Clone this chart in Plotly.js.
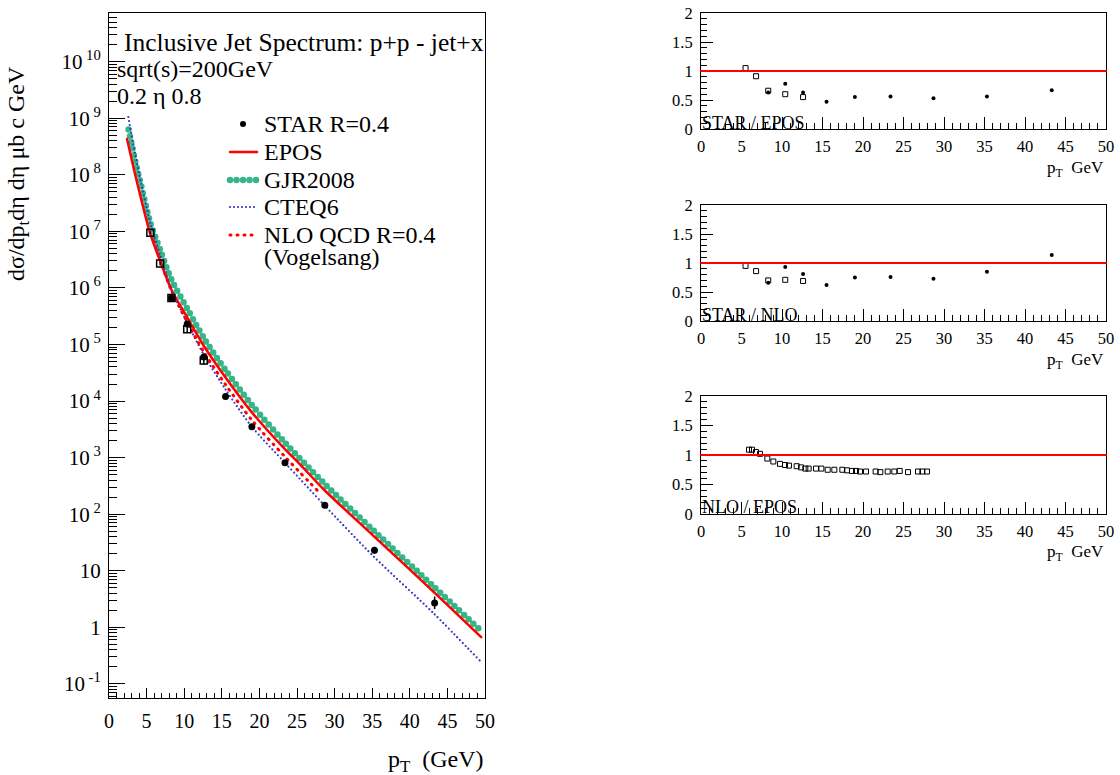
<!DOCTYPE html>
<html>
<head>
<meta charset="utf-8">
<script src="https://cdn.plot.ly/plotly-3.0.1.min.js"></script>
<style>
html,body{margin:0;padding:0;background:#fff;}
#chart{width:1120px;height:775px;}
path.js-line{stroke-linecap:round;}
.shapelayer path{stroke-linecap:round;}
</style>
</head>
<body>
<div id="chart"></div>
<script>
// ---------- data ----------
// EPOS curve
const eposX = [2.4, 3, 3.5, 4.3, 5.5, 6.8, 8.3, 10.4, 12.6, 15.5, 19, 23.3, 25.4, 28.6, 35.2, 43.2, 49.5];
const eposY = [4.3e8, 1.9e8, 9.8e7, 3.6e7, 8.9e6, 3.0e6, 9.3e5, 3.0e5, 9.5e4, 2.6e4, 6.3e3, 1.45e3, 760, 270, 41, 4.2, 0.67];
// GJR2008 curve
const gjrX = [2.6, 3, 3.5, 4.3, 5.5, 6.8, 8.3, 10.4, 12.6, 15.5, 19, 23.3, 28.6, 35.2, 43.2, 49.3];
const gjrY = [6.3e8, 3.5e8, 1.7e8, 6.2e7, 1.4e7, 4.7e6, 1.4e6, 4.3e5, 1.3e5, 3.5e4, 8.5e3, 1.9e3, 350, 51, 5.2, 0.91];
// CTEQ6 curve
const cteqX = [2.57, 3, 3.5, 4.3, 5.5, 6.8, 8.3, 10.4, 12.6, 15.5, 19, 23.4, 28.7, 35.2, 43.1, 49.4];
const cteqY = [1.05e9, 5.0e8, 2.3e8, 6.9e7, 1.4e7, 3.8e6, 9.5e5, 2.4e5, 6.6e4, 1.6e4, 3.5e3, 810, 141, 17.8, 1.8, 0.25];
// NLO QCD R=0.4 (Vogelsang)
const nloX = [5.9, 6.8, 8.3, 10.4, 12.6, 15.5, 19, 23.3, 27.8];
const nloY = [6.9e6, 3.1e6, 8.9e5, 2.5e5, 7.4e4, 1.95e4, 4.6e3, 1.07e3, 255];
// STAR R=0.4 (filled dots)
const starDotX = [8.3, 10.4, 12.6, 15.5, 19.0, 23.4, 28.7, 35.3, 43.3];
const starDotY = [6.6e5, 2.3e5, 6.0e4, 1.2e4, 3.5e3, 810, 144, 23, 2.7];
const starDotErrUp = [8e4, 3e4, 9e3, 1.2e3, 3.5e2, 80, 15, 3.5, 0.8];
const starDotErrDn = [7e4, 2.6e4, 8e3, 1.1e3, 3.2e2, 70, 13, 3.0, 0.6];
// STAR (open squares)
const starSqX = [5.5, 6.8, 8.3, 10.4, 12.6];
const starSqY = [9.4e6, 2.7e6, 6.6e5, 1.86e5, 5.2e4];
const starSqErrUp = [6e5, 2e5, 6e4, 2.2e4, 9e3];
const starSqErrDn = [6e5, 2e5, 6e4, 2.0e4, 8e3];
// Ratio STAR / EPOS
const r1DotY = [0.63, 0.78, 0.63, 0.47, 0.55, 0.56, 0.53, 0.56, 0.67];
const r1SqY = [1.05, 0.91, 0.66, 0.60, 0.55];
// Ratio STAR / NLO
const r2DotY = [0.66, 0.93, 0.81, 0.62, 0.75, 0.76, 0.73, 0.85, 1.14];
const r2SqY = [0.95, 0.86, 0.70, 0.71, 0.69];
// Ratio NLO / EPOS
const r3X = [5.93, 6.30, 6.79, 7.28, 8.19, 8.93, 9.75, 10.37, 10.86, 11.81, 12.35, 12.88, 13.29, 14.20, 14.86, 15.64, 16.46, 17.45, 18.02, 18.64, 19.14, 19.63, 20.37, 21.56, 22.14, 23.05, 23.87, 24.53, 25.56, 26.79, 27.33, 27.90];
const r3Y = [1.09, 1.09, 1.05, 1.02, 0.94, 0.89, 0.85, 0.83, 0.82, 0.81, 0.79, 0.77, 0.77, 0.77, 0.77, 0.75, 0.75, 0.75, 0.74, 0.73, 0.73, 0.72, 0.72, 0.72, 0.71, 0.72, 0.72, 0.73, 0.71, 0.72, 0.72, 0.72];
// legend labels
const legendLabels = ['STAR R=0.4', 'EPOS', 'GJR2008', 'CTEQ6', 'NLO QCD R=0.4', '(Vogelsang)'];
// tick labels
const decadeVals = [0.1, 1, 10, 1e2, 1e3, 1e4, 1e5, 1e6, 1e7, 1e8, 1e9, 1e10];
const decadeText = ['10<sup> -1</sup>', '1', '10', '10<sup> 2</sup>', '10<sup> 3</sup>', '10<sup> 4</sup>', '10<sup> 5</sup>', '10<sup> 6</sup>', '10<sup> 7</sup>', '10<sup> 8</sup>', '10<sup> 9</sup>', '10<sup> 10</sup>'];
const ratioTickVals = [0, 0.5, 1, 1.5, 2];
const ratioTickText = ['0', '0.5', '1', '1.5', '2'];

// ---------- styles ----------
const FONT = 'Liberation Serif, Times New Roman, Times, DejaVu Serif, serif';
const RED = '#ff0000', GREEN = '#36b587', BLUE = '#3535c8';
const W = 1120, H = 775;
const px = v => v / W, py = v => 1 - v / H;

const minorLog = [];
for (let e = -2; e <= 10; e++) for (let m = 2; m <= 9; m++) minorLog.push(m * Math.pow(10, e));

const gjrLine = {color: GREEN, width: 6.5, dash: '0px,6.5px'};
const eposLine = {color: RED, width: 2.5};
const cteqLine = {color: BLUE, width: 2.2, dash: '0px,4px'};
const nloLine = {color: RED, width: 3, dash: '1px,6px'};

const traces = [
  {x: gjrX, y: gjrY, mode: 'lines', name: 'GJR2008', line: Object.assign({shape: 'spline', smoothing: 0.8}, gjrLine), xaxis: 'x', yaxis: 'y'},
  {x: eposX, y: eposY, mode: 'lines', name: 'EPOS', line: Object.assign({shape: 'spline', smoothing: 0.8}, eposLine), xaxis: 'x', yaxis: 'y'},
  {x: cteqX, y: cteqY, mode: 'lines', name: 'CTEQ6', line: Object.assign({shape: 'spline', smoothing: 0.8}, cteqLine), xaxis: 'x', yaxis: 'y'},
  {x: nloX, y: nloY, mode: 'lines', name: 'NLO QCD R=0.4', line: Object.assign({shape: 'spline', smoothing: 0.8}, nloLine), xaxis: 'x', yaxis: 'y'},
  {x: starSqX, y: starSqY, mode: 'markers', name: 'STAR', marker: {symbol: 'square-open', size: 7, color: 'black', line: {width: 1.5, color: 'black'}},
   error_y: {type: 'data', array: starSqErrUp, arrayminus: starSqErrDn, color: 'black', thickness: 1.5, width: 0}, xaxis: 'x', yaxis: 'y'},
  {x: starDotX, y: starDotY, mode: 'markers', name: 'STAR R=0.4', marker: {symbol: 'circle', size: 7, color: 'black'},
   error_y: {type: 'data', array: starDotErrUp, arrayminus: starDotErrDn, color: 'black', thickness: 1.5, width: 0}, xaxis: 'x', yaxis: 'y'},
  // ratio panels
  {x: starSqX, y: r1SqY, mode: 'markers', marker: {symbol: 'square-open', size: 5, color: 'black', line: {width: 1, color: 'black'}}, xaxis: 'x2', yaxis: 'y2'},
  {x: starDotX, y: r1DotY, mode: 'markers', marker: {symbol: 'circle', size: 4, color: 'black'}, xaxis: 'x2', yaxis: 'y2'},
  {x: starSqX, y: r2SqY, mode: 'markers', marker: {symbol: 'square-open', size: 5, color: 'black', line: {width: 1, color: 'black'}}, xaxis: 'x3', yaxis: 'y3'},
  {x: starDotX, y: r2DotY, mode: 'markers', marker: {symbol: 'circle', size: 4, color: 'black'}, xaxis: 'x3', yaxis: 'y3'},
  {x: r3X, y: r3Y, mode: 'markers', marker: {symbol: 'square-open', size: 5, color: 'black', line: {width: 1, color: 'black'}}, xaxis: 'x4', yaxis: 'y4'}
];

const baseAxis = {showline: true, linecolor: 'black', linewidth: 1, mirror: true, ticks: 'inside', tickcolor: 'black', tickwidth: 1, showgrid: false, zeroline: false, fixedrange: true};

const ratioX = (anchor) => Object.assign({}, baseAxis, {
  anchor: anchor, domain: [px(701), px(1106)], range: [0, 50], tickmode: 'linear', tick0: 0, dtick: 5, ticklen: 12,
  minor: {dtick: 1, ticklen: 6, ticks: 'inside', tickcolor: 'black'}, tickfont: {family: FONT, size: 16.5, color: 'black'}, ticklabelstandoff: 2
});
const ratioY = (anchor, top, bot) => Object.assign({}, baseAxis, {
  anchor: anchor, domain: [py(bot), py(top)], range: [0, 2], tickmode: 'array', tickvals: ratioTickVals, ticktext: ratioTickText, ticklen: 12,
  minor: {dtick: 0.1, ticklen: 6, ticks: 'inside', tickcolor: 'black'}, tickfont: {family: FONT, size: 16.5, color: 'black'}, ticklabelstandoff: 4
});

const unity = (xr, yr) => ({type: 'line', xref: xr + ' domain', yref: yr, x0: 0, x1: 1, y0: 1, y1: 1, line: {color: RED, width: 2}});
// legend samples (paper coordinates, not data)
const legLine = (y, line) => ({type: 'line', xref: 'paper', yref: 'paper', x0: px(230), x1: px(257), y0: py(y), y1: py(y), line: line});
const legDot = (y) => ({type: 'circle', xref: 'paper', yref: 'paper', x0: px(240), x1: px(246), y0: py(y - 3), y1: py(y + 3), fillcolor: 'black', line: {color: 'black', width: 0}});

const ann = (text, x, y, size, opts) => Object.assign({text: text, x: px(x), y: py(y), xref: 'paper', yref: 'paper', showarrow: false, xanchor: 'left', yanchor: 'middle', font: {family: FONT, size: size, color: 'black'}}, opts || {});

const legYs = [124, 152, 180, 207, 235, 257];

const layout = {
  width: W, height: H, margin: {l: 0, r: 0, t: 0, b: 0},
  paper_bgcolor: 'white', plot_bgcolor: 'white',
  font: {family: FONT, color: 'black'},
  showlegend: false,
  xaxis: Object.assign({}, baseAxis, {anchor: 'y', domain: [px(109), px(485)], range: [0, 50], tickmode: 'linear', tick0: 0, dtick: 5, ticklen: 10,
    minor: {dtick: 1, ticklen: 5, ticks: 'inside', tickcolor: 'black'}, tickfont: {family: FONT, size: 20, color: 'black'}, ticklabelstandoff: 5}),
  yaxis: Object.assign({}, baseAxis, {anchor: 'x', domain: [py(698), py(13)], type: 'log', range: [-1.25, 10.86], tickmode: 'array',
    tickvals: decadeVals, ticktext: decadeText, ticklen: 16,
    minor: {tickmode: 'array', tickvals: minorLog, ticklen: 8, ticks: 'inside', tickcolor: 'black'}, tickfont: {family: FONT, size: 21, color: 'black'}, ticklabelstandoff: 3}),
  xaxis2: ratioX('y2'), yaxis2: ratioY('x2', 13, 129),
  xaxis3: ratioX('y3'), yaxis3: ratioY('x3', 205, 321),
  xaxis4: ratioX('y4'), yaxis4: ratioY('x4', 396, 514),
  shapes: [unity('x2', 'y2'), unity('x3', 'y3'), unity('x4', 'y4'),
    legDot(legYs[0]), legLine(legYs[1], eposLine), legLine(legYs[2], gjrLine), legLine(legYs[3], cteqLine), legLine(legYs[4], nloLine)],
  annotations: [
    ann('Inclusive Jet Spectrum: p+p - jet+x', 122, 42, 25.5),
    ann('sqrt(s)=200GeV', 115, 69, 24),
    ann('0.2 η 0.8', 115, 96, 24),
    ann(legendLabels[0], 262, legYs[0], 24),
    ann(legendLabels[1], 262, legYs[1], 24),
    ann(legendLabels[2], 262, legYs[2], 24),
    ann(legendLabels[3], 262, legYs[3], 24),
    ann(legendLabels[4], 262, legYs[4], 24),
    ann(legendLabels[5], 262, legYs[5], 24),
    ann('dσ/dp<sub>t</sub>dη dη μb c GeV', 18, 174, 24, {xanchor: 'center', textangle: -90}),
    ann('p<sub>T</sub>  (GeV)', 486, 761, 24, {xanchor: 'right'}),
    ann('STAR / EPOS', 700, 123, 18),
    ann('p<sub>T</sub>  GeV', 1106, 169, 17, {xanchor: 'right'}),
    ann('STAR / NLO', 700, 315, 18),
    ann('p<sub>T</sub>  GeV', 1106, 361, 17, {xanchor: 'right'}),
    ann('NLO / EPOS', 700, 507, 18),
    ann('p<sub>T</sub>  GeV', 1106, 553, 17, {xanchor: 'right'})
  ]
};

Plotly.newPlot('chart', traces, layout, {staticPlot: true, displayModeBar: false});
</script>
</body>
</html>
